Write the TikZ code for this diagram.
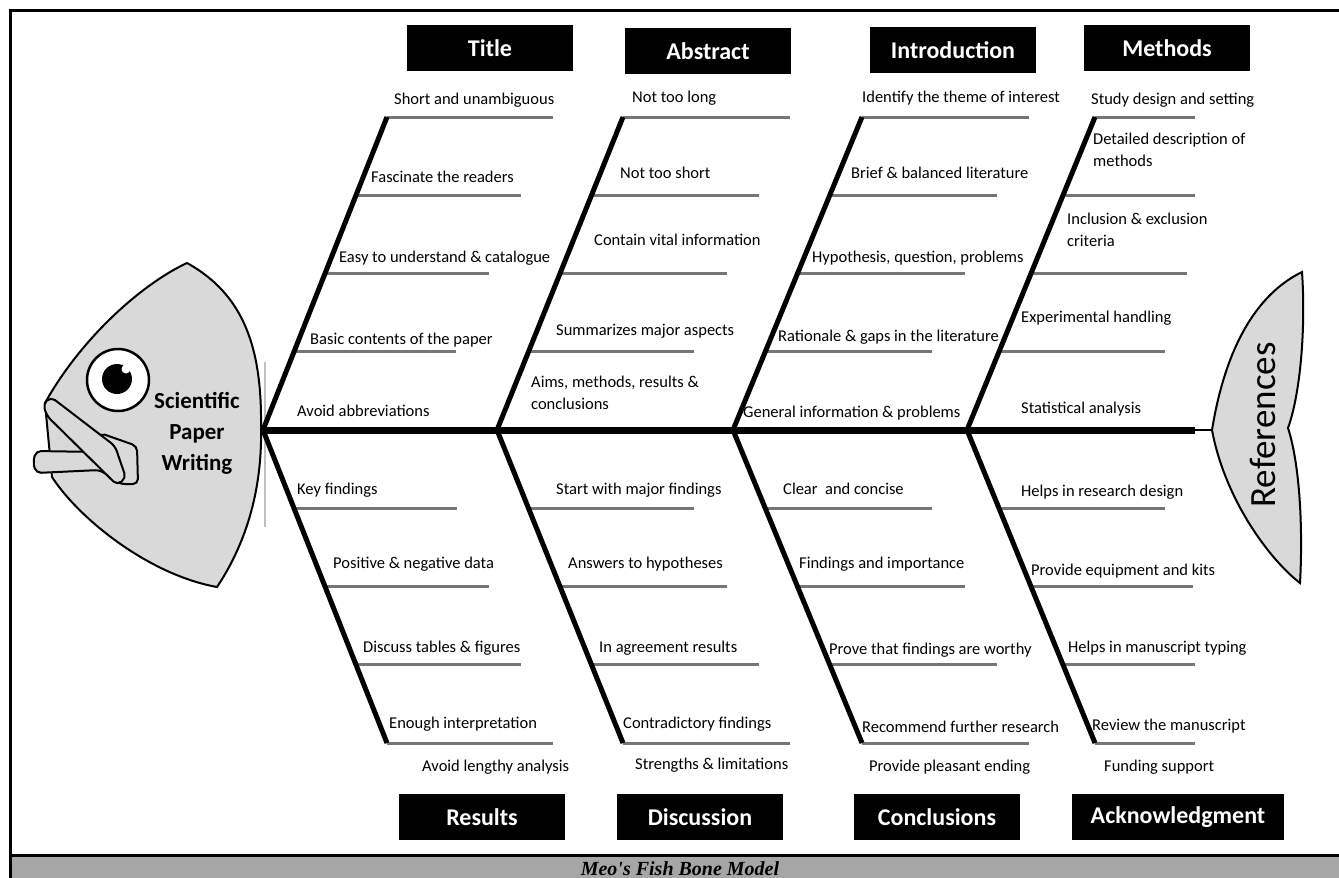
\documentclass[tikz,border=0pt]{standalone}
\usepackage{fontspec}
\setmainfont{Carlito}
\newfontfamily\capfont{Liberation Serif}
\usetikzlibrary{calc,positioning}
\definecolor{headgrey}{RGB}{217,217,217}
\definecolor{ribgrey}{RGB}{118,118,118}
\definecolor{bargrey}{RGB}{166,166,166}

\begin{document}
\begin{tikzpicture}
      [x=1pt, y=-1pt,
      box style/.style={fill=black, text=white, font=\bfseries\fontsize{24}{28}\selectfont, minimum width=166pt, minimum height=46pt, inner sep=0pt},
      item style/.style={anchor=west, inner sep=0pt, align=left, text height=12pt, text depth=4pt, font=\fontsize{16.5}{22}\selectfont},
      bone style/.style={draw, line width=5pt},
      rib style/.style={draw=ribgrey, line width=3pt},
      fish style/.style={draw, line width=2pt, fill=headgrey},
      ]

      \useasboundingbox (0,0) rectangle (1339,878);
      \fill[bargrey] (10,856) rectangle (1339,878);
      \draw[line width=3pt] (1339,10) -- (10,10) -- (10,878);
      \draw[line width=3pt] (10,855) -- (1339,855);
      \node[font=\capfont\bfseries\itshape\fontsize{20}{22}\selectfont] (caption) at (680,869) {Meo's Fish Bone Model};

      \coordinate (j1) at (263,430); \coordinate (t1) at (387,117); \coordinate (b1) at (387,743);
      \coordinate (j2) at (497,430); \coordinate (t2) at (623,117); \coordinate (b2) at (623,743);
      \coordinate (j3) at (733,430); \coordinate (t3) at (862,117); \coordinate (b3) at (862,743);
      \coordinate (j4) at (967,430); \coordinate (t4) at (1095,117); \coordinate (b4) at (1095,743);
      \coordinate (se) at (1195,430);
      \coordinate (tail) at (1212,430);

      \draw[fish style] (187,263) .. controls (140,285) and (80,340) .. (45,403) -- (52,477)
        .. controls (80,520) and (150,575) .. (217,587) .. controls (255,530) and (262,470) .. (261,427)
        .. controls (262,350) and (245,295) .. (187,263) -- cycle;
      \draw[fish style, rounded corners=5pt] (100,433) -- (137,446) -- (138,484) -- (120,484) -- (100,470)
        -- (36,473) -- (33,462) -- (36,451) -- (98,452) -- cycle;
      \draw[fish style, rounded corners=5pt] (43,404) -- (51,397) -- (115,446) -- (126,478) -- (117,485)
        -- (47,416) -- cycle;
      \draw[line width=2.5pt, fill=white] (118,380) circle (31pt);
      \fill (117,379) circle (15pt);
      \fill[white] (126,369) circle (4.5pt);
      \node[align=center, font=\bfseries\fontsize{23}{31}\selectfont] (head) at (197,433) {Scientific\\Paper\\Writing};
      \draw[gray!50, line width=1.5pt] (265,362) -- (265,527);

      \draw[fish style] (tail) .. controls (1225,350) and (1255,295) .. (1302,272)
        .. controls (1306,330) and (1300,395) .. (1288,428) .. controls (1300,465) and (1303,530) .. (1300,583)
        .. controls (1270,560) and (1225,500) .. (tail) -- cycle;
      \node[rotate=90, font=\fontsize{37}{42}\selectfont] (refs) at (1263,425) {References};

      \foreach \bj/\bt/\ea/\eb/\ec/\ed in {j1/t1/456/489/521/553, j2/t2/694/727/759/790, j3/t3/932/965/997/1029,
          j4/t4/1165/1187/1195/1195, j1/b1/457/489/521/553, j2/b2/694/727/759/790, j3/b3/932/965/997/1029,
          j4/b4/1165/1193/1195/1195} {
        \foreach \fr/\ex in {0.25/\ea, 0.5/\eb, 0.75/\ec, 1/\ed} {
          \coordinate (rs) at ($(\bj)!\fr!(\bt)$);
          \coordinate (re) at (rs -| \ex,0);
          \draw[rib style] (rs) -- (re);
        }
      }
      \draw[bone style] (j1) -- (t1); \draw[bone style] (j1) -- (b1);
      \draw[bone style] (j2) -- (t2); \draw[bone style] (j2) -- (b2);
      \draw[bone style] (j3) -- (t3); \draw[bone style] (j3) -- (b3);
      \draw[bone style] (j4) -- (t4); \draw[bone style] (j4) -- (b4);
      \draw[line width=7pt] (j1) -- (se);
      \draw[line width=2.5pt] (se) -- (tail);

      \node[box style] (title) at (490,48) {Title};
      \node[box style] (abstract) at (708,51) {Abstract};
      \node[box style] (intro) at (953,50) {Introduction};
      \node[box style] (methods) at (1167,48) {Methods};
      \node[box style] (results) at (482,817) {Results};
      \node[box style] (discussion) at (700,817) {Discussion};
      \node[box style] (conclusions) at (937,817) {Conclusions};
      \node[box style, minimum width=212pt] (ack) at (1178,817) {Acknowledgment};

      \node[item style] (ti1) at (394,100) {Short and unambiguous};
      \node[item style] (ti2) at (371,178) {Fascinate the readers};
      \node[item style] (ti3) at (339,258) {Easy to understand \& catalogue};
      \node[item style] (ti4) at (310,340) {Basic contents of the paper};
      \node[item style] (ti5) at (297,412) {Avoid abbreviations};
      \node[item style] (ab1) at (632,98) {Not too long};
      \node[item style] (ab2) at (620,174) {Not too short};
      \node[item style] (ab3) at (594,241) {Contain vital information};
      \node[item style] (ab4) at (556,331) {Summarizes major aspects};
      \node[item style] (ab5) at (531,405) {Aims, methods, results \&\\conclusions};
      \node[item style] (in1) at (862,98) {Identify the theme of interest};
      \node[item style] (in2) at (851,174) {Brief \& balanced literature};
      \node[item style] (in3) at (812,258) {Hypothesis, question, problems};
      \node[item style] (in4) at (778,337) {Rationale \& gaps in the literature};
      \node[item style] (in5) at (743,413) {General information \& problems};
      \node[item style] (me1) at (1091,100) {Study design and setting};
      \node[item style] (me2) at (1093,162) {Detailed description of\\methods};
      \node[item style] (me3) at (1067,242) {Inclusion \& exclusion\\criteria};
      \node[item style] (me4) at (1021,318) {Experimental handling};
      \node[item style] (me5) at (1021,409) {Statistical analysis};

      \node[item style] (re1) at (297,490) {Key findings};
      \node[item style] (re2) at (333,564) {Positive \& negative data};
      \node[item style] (re3) at (363,648) {Discuss tables \& figures};
      \node[item style] (re4) at (389,724) {Enough interpretation};
      \node[item style] (re5) at (422,767) {Avoid lengthy analysis};
      \node[item style] (di1) at (556,490) {Start with major findings};
      \node[item style] (di2) at (568,564) {Answers to hypotheses};
      \node[item style] (di3) at (599,648) {In agreement results};
      \node[item style] (di4) at (623,724) {Contradictory findings};
      \node[item style] (di5) at (635,765) {Strengths \& limitations};
      \node[item style] (co1) at (783,490) {Clear\ \ and concise};
      \node[item style] (co2) at (799,564) {Findings and importance};
      \node[item style] (co3) at (829,650) {Prove that findings are worthy};
      \node[item style] (co4) at (862,728) {Recommend further research};
      \node[item style] (co5) at (869,767) {Provide pleasant ending};
      \node[item style] (ac1) at (1021,492) {Helps in research design};
      \node[item style] (ac2) at (1031,571) {Provide equipment and kits};
      \node[item style] (ac3) at (1068,648) {Helps in manuscript typing};
      \node[item style] (ac4) at (1092,726) {Review the manuscript};
      \node[item style] (ac5) at (1104,767) {Funding support};
    \end{tikzpicture}
\end{document}
